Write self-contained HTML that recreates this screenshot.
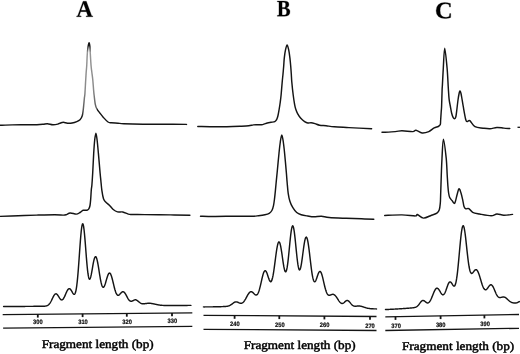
<!DOCTYPE html>
<html><head><meta charset="utf-8"><style>
html,body{margin:0;padding:0;background:#fff;}
body{width:520px;height:354px;overflow:hidden;}
svg{display:block;will-change:transform;text-rendering:geometricPrecision;}
.c{fill:none;stroke:#141414;stroke-width:1.45;stroke-linejoin:round;stroke-linecap:round;}
.a{stroke:#141414;stroke-width:1.3;}
.t{stroke:#141414;stroke-width:1.8;}
.d{stroke:#141414;stroke-width:1.3;}
.n{font-family:"Liberation Sans",sans-serif;font-size:6.3px;fill:#111;stroke:#111;stroke-width:0.2;font-weight:bold;}
.G{fill:#000;stroke:#000;stroke-width:0.25;vector-effect:non-scaling-stroke;}
.L{font-family:"Liberation Serif",serif;font-size:23.6px;font-weight:bold;fill:#000;stroke:#000;stroke-width:0.2;}
.f{font-family:"Liberation Serif",serif;font-size:12px;fill:#000;stroke:#000;stroke-width:0.45;}
</style></head><body>
<svg width="520" height="354" viewBox="0 0 520 354">
<path d="M0.00,125.30 C2.05,125.23 8.20,124.98 12.30,124.90 C16.40,124.82 20.50,124.83 24.60,124.80 C28.70,124.77 33.82,124.78 36.90,124.70 C39.98,124.62 41.35,124.47 43.10,124.30 C44.85,124.13 45.77,123.63 47.40,123.70 C49.03,123.77 51.17,124.63 52.90,124.70 C54.63,124.77 56.53,124.38 57.80,124.10 C59.07,123.82 59.58,123.30 60.50,123.00 C61.42,122.70 62.13,122.27 63.30,122.30 C64.47,122.33 66.03,123.08 67.50,123.20 C68.97,123.32 70.55,123.27 72.10,123.00 C73.65,122.73 75.48,122.15 76.80,121.60 C78.12,121.05 79.10,120.63 80.00,119.70 C80.90,118.77 81.68,117.48 82.20,116.00 C82.72,114.52 82.83,112.75 83.10,110.80 C83.37,108.85 83.58,106.47 83.80,104.30 C84.02,102.13 84.22,99.52 84.40,97.80 C84.58,96.08 84.68,96.97 84.90,94.00 C85.12,91.03 85.48,83.67 85.70,80.00 C85.92,76.33 86.03,74.33 86.20,72.00 C86.37,69.67 86.52,69.03 86.70,66.00 C86.88,62.97 87.07,57.05 87.30,53.80 C87.53,50.55 87.80,48.33 88.10,46.50 C88.40,44.67 88.80,42.80 89.10,42.80 C89.40,42.80 89.70,44.67 89.90,46.50 C90.10,48.33 90.10,50.55 90.30,53.80 C90.50,57.05 90.85,62.97 91.10,66.00 C91.35,69.03 91.52,69.67 91.80,72.00 C92.08,74.33 92.50,77.00 92.80,80.00 C93.10,83.00 93.38,87.50 93.60,90.00 C93.82,92.50 93.82,92.62 94.10,95.00 C94.38,97.38 94.83,101.97 95.30,104.30 C95.77,106.63 96.18,107.60 96.90,109.00 C97.62,110.40 98.52,111.30 99.60,112.70 C100.68,114.10 102.00,115.85 103.40,117.40 C104.80,118.95 106.68,121.10 108.00,122.00 C109.32,122.90 109.63,122.60 111.30,122.80 C112.97,123.00 115.92,123.05 118.00,123.20 C120.08,123.35 119.63,123.53 123.80,123.70 C127.97,123.87 136.13,124.10 143.00,124.20 C149.87,124.30 157.75,124.27 165.00,124.30 C172.25,124.33 182.92,124.38 186.50,124.40" class="c"/>
<path d="M0.00,216.40 C3.05,216.28 12.20,215.92 18.30,215.70 C24.40,215.48 30.52,215.27 36.60,215.10 C42.68,214.93 50.40,214.70 54.80,214.70 C59.20,214.70 61.13,215.08 63.00,215.10 C64.87,215.12 64.80,215.15 66.00,214.80 C67.20,214.45 68.48,213.12 70.20,213.00 C71.92,212.88 74.67,214.18 76.30,214.10 C77.93,214.02 78.85,213.13 80.00,212.50 C81.15,211.87 82.03,210.68 83.20,210.30 C84.37,209.92 86.07,210.45 87.00,210.20 C87.93,209.95 88.30,209.58 88.80,208.80 C89.30,208.02 89.68,207.13 90.00,205.50 C90.32,203.87 90.48,201.63 90.70,199.00 C90.92,196.37 91.10,192.03 91.30,189.70 C91.50,187.37 91.67,187.78 91.90,185.00 C92.13,182.22 92.40,178.27 92.70,173.00 C93.00,167.73 93.37,158.90 93.70,153.40 C94.03,147.90 94.33,143.38 94.70,140.00 C95.07,136.62 95.50,133.10 95.90,133.10 C96.30,133.10 96.68,136.62 97.10,140.00 C97.52,143.38 97.90,147.90 98.40,153.40 C98.90,158.90 99.70,168.57 100.10,173.00 C100.50,177.43 100.50,177.05 100.80,180.00 C101.10,182.95 101.45,187.57 101.90,190.70 C102.35,193.83 102.87,196.92 103.50,198.80 C104.13,200.68 104.72,200.93 105.70,202.00 C106.68,203.07 108.15,203.95 109.40,205.20 C110.65,206.45 111.85,208.38 113.20,209.50 C114.55,210.62 115.90,211.48 117.50,211.90 C119.10,212.32 121.02,211.63 122.80,212.00 C124.58,212.37 126.67,213.68 128.20,214.10 C129.73,214.52 129.27,214.42 132.00,214.50 C134.73,214.58 138.17,214.53 144.60,214.60 C151.03,214.67 163.05,214.80 170.60,214.90 C178.15,215.00 186.68,215.15 189.90,215.20" class="c"/>
<path d="M3.60,306.53L4.00,306.53L4.40,306.52L4.80,306.52L5.20,306.52L5.60,306.52L6.00,306.51L6.40,306.51L6.80,306.51L7.20,306.51L7.60,306.50L8.00,306.50L8.40,306.50L8.80,306.50L9.20,306.49L9.60,306.49L10.00,306.49L10.40,306.49L10.80,306.48L11.20,306.48L11.60,306.48L12.00,306.48L12.40,306.47L12.80,306.47L13.20,306.47L13.60,306.47L14.00,306.46L14.40,306.46L14.80,306.46L15.20,306.46L15.60,306.45L16.00,306.45L16.40,306.45L16.80,306.45L17.20,306.45L17.60,306.44L18.00,306.44L18.40,306.44L18.80,306.44L19.20,306.43L19.60,306.43L20.00,306.43L20.40,306.43L20.80,306.42L21.20,306.42L21.60,306.42L22.00,306.42L22.40,306.41L22.80,306.41L23.20,306.41L23.60,306.41L24.00,306.40L24.40,306.40L24.80,306.40L25.20,306.40L25.60,306.39L26.00,306.39L26.40,306.39L26.80,306.39L27.20,306.38L27.60,306.38L28.00,306.38L28.40,306.38L28.80,306.37L29.20,306.37L29.60,306.37L30.00,306.37L30.40,306.36L30.80,306.36L31.20,306.36L31.60,306.36L32.00,306.35L32.40,306.35L32.80,306.35L33.20,306.35L33.60,306.34L34.00,306.34L34.40,306.34L34.80,306.34L35.20,306.33L35.60,306.33L36.00,306.33L36.40,306.33L36.80,306.32L37.20,306.32L37.60,306.32L38.00,306.32L38.40,306.31L38.80,306.31L39.20,306.31L39.60,306.31L40.00,306.30L40.40,306.30L40.80,306.30L41.20,306.29L41.60,306.29L42.00,306.29L42.40,306.28L42.80,306.27L43.20,306.26L43.60,306.25L44.00,306.23L44.40,306.21L44.80,306.18L45.20,306.14L45.60,306.08L46.00,306.01L46.40,305.91L46.80,305.78L47.20,305.63L47.60,305.43L48.00,305.19L48.40,304.89L48.80,304.53L49.20,304.12L49.60,303.63L50.00,303.07L50.40,302.45L50.80,301.76L51.20,301.01L51.60,300.21L52.00,299.38L52.40,298.54L52.80,297.70L53.20,296.89L53.60,296.13L54.00,295.45L54.40,294.86L54.80,294.39L55.20,294.06L55.60,293.86L56.00,293.82L56.40,293.92L56.80,294.17L57.20,294.54L57.60,295.01L58.00,295.58L58.40,296.20L58.80,296.84L59.20,297.49L59.60,298.11L60.00,298.67L60.40,299.15L60.80,299.53L61.20,299.78L61.60,299.91L62.00,299.89L62.40,299.72L62.80,299.42L63.20,298.97L63.60,298.40L64.00,297.72L64.40,296.93L64.80,296.07L65.20,295.16L65.60,294.22L66.00,293.28L66.40,292.36L66.80,291.50L67.20,290.71L67.60,290.02L68.00,289.46L68.40,289.03L68.80,288.76L69.20,288.65L69.60,288.70L70.00,288.90L70.40,289.25L70.80,289.74L71.20,290.33L71.60,290.99L72.00,291.71L72.40,292.43L72.80,293.10L73.20,293.69L73.60,294.13L74.00,294.37L74.40,294.34L74.80,293.99L75.20,293.24L75.60,292.05L76.00,290.35L76.40,288.10L76.80,285.28L77.20,281.87L77.60,277.88L78.00,273.35L78.40,268.35L78.80,262.98L79.20,257.36L79.60,251.65L80.00,246.02L80.40,240.66L80.80,235.76L81.20,231.51L81.60,228.07L82.00,225.58L82.40,224.15L82.80,223.82L83.20,224.60L83.60,226.46L84.00,229.29L84.40,232.97L84.80,237.32L85.20,242.16L85.60,247.29L86.00,252.50L86.40,257.59L86.80,262.40L87.20,266.76L87.60,270.57L88.00,273.73L88.40,276.19L88.80,277.92L89.20,278.93L89.60,279.25L90.00,278.93L90.40,278.05L90.80,276.67L91.20,274.91L91.60,272.85L92.00,270.61L92.40,268.27L92.80,265.94L93.20,263.71L93.60,261.68L94.00,259.92L94.40,258.49L94.80,257.44L95.20,256.83L95.60,256.66L96.00,256.95L96.40,257.68L96.80,258.84L97.20,260.38L97.60,262.25L98.00,264.39L98.40,266.74L98.80,269.22L99.20,271.76L99.60,274.29L100.00,276.73L100.40,279.02L100.80,281.11L101.20,282.94L101.60,284.48L102.00,285.70L102.40,286.58L102.80,287.12L103.20,287.32L103.60,287.19L104.00,286.75L104.40,286.05L104.80,285.10L105.20,283.97L105.60,282.69L106.00,281.32L106.40,279.91L106.80,278.51L107.20,277.19L107.60,275.98L108.00,274.93L108.40,274.09L108.80,273.47L109.20,273.12L109.60,273.03L110.00,273.23L110.40,273.69L110.80,274.42L111.20,275.40L111.60,276.59L112.00,277.95L112.40,279.47L112.80,281.08L113.20,282.76L113.60,284.45L114.00,286.11L114.40,287.72L114.80,289.22L115.20,290.59L115.60,291.82L116.00,292.87L116.40,293.73L116.80,294.41L117.20,294.89L117.60,295.19L118.00,295.32L118.40,295.29L118.80,295.13L119.20,294.85L119.60,294.48L120.00,294.06L120.40,293.60L120.80,293.15L121.20,292.72L121.60,292.34L122.00,292.03L122.40,291.82L122.80,291.71L123.20,291.72L123.60,291.85L124.00,292.11L124.40,292.47L124.80,292.95L125.20,293.52L125.60,294.16L126.00,294.87L126.40,295.61L126.80,296.38L127.20,297.14L127.60,297.88L128.00,298.58L128.40,299.22L128.80,299.79L129.20,300.27L129.60,300.67L130.00,300.97L130.40,301.17L130.80,301.28L131.20,301.30L131.60,301.25L132.00,301.13L132.40,300.96L132.80,300.75L133.20,300.54L133.60,300.32L134.00,300.13L134.40,299.97L134.80,299.86L135.20,299.81L135.60,299.82L136.00,299.90L136.40,300.04L136.80,300.24L137.20,300.50L137.60,300.79L138.00,301.11L138.40,301.45L138.80,301.80L139.20,302.14L139.60,302.46L140.00,302.75L140.40,303.01L140.80,303.24L141.20,303.43L141.60,303.58L142.00,303.69L142.40,303.76L142.80,303.81L143.20,303.82L143.60,303.82L144.00,303.79L144.40,303.75L144.80,303.71L145.20,303.65L145.60,303.59L146.00,303.53L146.40,303.48L146.80,303.42L147.20,303.38L147.60,303.34L148.00,303.31L148.40,303.29L148.80,303.27L149.20,303.27L149.60,303.28L150.00,303.30L150.40,303.33L150.80,303.37L151.20,303.41L151.60,303.47L152.00,303.53L152.40,303.60L152.80,303.68L153.20,303.76L153.60,303.85L154.00,303.94L154.40,304.03L154.80,304.12L155.20,304.21L155.60,304.31L156.00,304.40L156.40,304.49L156.80,304.57L157.20,304.66L157.60,304.74L158.00,304.81L158.40,304.89L158.80,304.95L159.20,305.02L159.60,305.08L160.00,305.13L160.40,305.18L160.80,305.22L161.20,305.26L161.60,305.30L162.00,305.33L162.40,305.36L162.80,305.38L163.20,305.40L163.60,305.42L164.00,305.44L164.40,305.45L164.80,305.46L165.20,305.47L165.60,305.48L166.00,305.49L166.40,305.49L166.80,305.50L167.20,305.50L167.60,305.50L168.00,305.50L168.40,305.50L168.80,305.50L169.20,305.50L169.60,305.50L170.00,305.50L170.40,305.50L170.80,305.50L171.20,305.50L171.60,305.49L172.00,305.49L172.40,305.49L172.80,305.49L173.20,305.49L173.60,305.48L174.00,305.48L174.40,305.48L174.80,305.48L175.20,305.47L175.60,305.47L176.00,305.47L176.40,305.47L176.80,305.46L177.20,305.46L177.60,305.46L178.00,305.46L178.40,305.45L178.80,305.45L179.20,305.45L179.60,305.45L180.00,305.44L180.40,305.44L180.80,305.44L181.20,305.44L181.60,305.43L182.00,305.43L182.40,305.43L182.80,305.43L183.20,305.42L183.60,305.42L184.00,305.42L184.40,305.42L184.80,305.41L185.20,305.41L185.60,305.41L186.00,305.41L186.40,305.40L186.80,305.40L187.20,305.40L187.60,305.40L188.00,305.39L188.40,305.39L188.80,305.39L189.20,305.39L189.60,305.38L190.00,305.38L190.40,305.38L190.80,305.38L190.90,305.38" class="c"/>
<path d="M197.80,126.50 C201.17,126.55 210.77,126.85 218.00,126.80 C225.23,126.75 236.07,126.37 241.20,126.20 C246.33,126.03 246.75,126.02 248.80,125.80 C250.85,125.58 251.97,125.07 253.50,124.90 C255.03,124.73 256.47,124.85 258.00,124.80 C259.53,124.75 261.15,124.90 262.70,124.60 C264.25,124.30 265.92,123.38 267.30,123.00 C268.68,122.62 269.75,122.53 271.00,122.30 C272.25,122.07 273.87,122.03 274.80,121.60 C275.73,121.17 276.07,120.72 276.60,119.70 C277.13,118.68 277.57,117.28 278.00,115.50 C278.43,113.72 278.83,111.17 279.20,109.00 C279.57,106.83 279.88,104.83 280.20,102.50 C280.52,100.17 280.77,98.42 281.10,95.00 C281.43,91.58 281.88,85.50 282.20,82.00 C282.52,78.50 282.75,76.67 283.00,74.00 C283.25,71.33 283.48,68.70 283.70,66.00 C283.92,63.30 284.00,60.48 284.30,57.80 C284.60,55.12 285.03,52.05 285.50,49.90 C285.97,47.75 286.57,44.90 287.10,44.90 C287.63,44.90 288.23,47.75 288.70,49.90 C289.17,52.05 289.57,55.12 289.90,57.80 C290.23,60.48 290.47,63.30 290.70,66.00 C290.93,68.70 291.12,71.33 291.30,74.00 C291.48,76.67 291.48,78.50 291.80,82.00 C292.12,85.50 292.73,91.28 293.20,95.00 C293.67,98.72 294.18,101.97 294.60,104.30 C295.02,106.63 295.20,107.45 295.70,109.00 C296.20,110.55 296.75,112.05 297.60,113.60 C298.45,115.15 299.63,116.97 300.80,118.30 C301.97,119.63 303.43,120.82 304.60,121.60 C305.77,122.38 306.72,122.82 307.80,123.00 C308.88,123.18 309.90,122.60 311.10,122.70 C312.30,122.80 313.58,123.18 315.00,123.60 C316.42,124.02 317.75,124.83 319.60,125.20 C321.45,125.57 323.65,125.53 326.10,125.80 C328.55,126.07 330.48,126.50 334.30,126.80 C338.12,127.10 342.78,127.27 349.00,127.60 C355.22,127.93 367.83,128.60 371.60,128.80" class="c"/>
<path d="M200.50,216.20 C202.60,216.25 207.15,216.50 213.10,216.50 C219.05,216.50 229.72,216.25 236.20,216.20 C242.68,216.15 248.28,216.28 252.00,216.20 C255.72,216.12 256.35,215.93 258.50,215.70 C260.65,215.47 263.12,215.18 264.90,214.80 C266.68,214.42 268.03,214.12 269.20,213.40 C270.37,212.68 271.18,211.78 271.90,210.50 C272.62,209.22 273.05,207.77 273.50,205.70 C273.95,203.63 274.28,200.62 274.60,198.10 C274.92,195.58 275.13,193.28 275.40,190.60 C275.67,187.92 275.90,185.10 276.20,182.00 C276.50,178.90 276.73,176.80 277.20,172.00 C277.67,167.20 278.48,158.20 279.00,153.20 C279.52,148.20 279.83,145.05 280.30,142.00 C280.77,138.95 281.30,134.90 281.80,134.90 C282.30,134.90 282.83,138.95 283.30,142.00 C283.77,145.05 284.10,148.20 284.60,153.20 C285.10,158.20 285.88,167.20 286.30,172.00 C286.72,176.80 286.78,178.45 287.10,182.00 C287.42,185.55 287.73,190.10 288.20,193.30 C288.67,196.50 289.15,198.85 289.90,201.20 C290.65,203.55 291.57,205.52 292.70,207.40 C293.83,209.28 295.28,211.28 296.70,212.50 C298.12,213.72 299.37,214.12 301.20,214.70 C303.03,215.28 305.60,215.65 307.70,216.00 C309.80,216.35 311.50,216.75 313.80,216.80 C316.10,216.85 318.93,216.18 321.50,216.30 C324.07,216.42 325.08,217.17 329.20,217.50 C333.32,217.83 340.82,218.08 346.20,218.30 C351.58,218.52 356.90,218.65 361.50,218.80 C366.10,218.95 371.75,219.13 373.80,219.20" class="c"/>
<path d="M203.50,306.89L203.90,306.90L204.30,306.90L204.70,306.90L205.10,306.89L205.50,306.89L205.90,306.89L206.30,306.89L206.70,306.89L207.10,306.89L207.50,306.89L207.90,306.89L208.30,306.89L208.70,306.88L209.10,306.88L209.50,306.88L209.90,306.88L210.30,306.87L210.70,306.87L211.10,306.87L211.50,306.86L211.90,306.86L212.30,306.85L212.70,306.85L213.10,306.84L213.50,306.84L213.90,306.83L214.30,306.83L214.70,306.82L215.10,306.81L215.50,306.81L215.90,306.80L216.30,306.79L216.70,306.78L217.10,306.77L217.50,306.76L217.90,306.76L218.30,306.75L218.70,306.74L219.10,306.72L219.50,306.71L219.90,306.70L220.30,306.69L220.70,306.68L221.10,306.66L221.50,306.65L221.90,306.64L222.30,306.62L222.70,306.61L223.10,306.59L223.50,306.57L223.90,306.55L224.30,306.53L224.70,306.51L225.10,306.49L225.50,306.46L225.90,306.42L226.30,306.38L226.70,306.34L227.10,306.28L227.50,306.21L227.90,306.13L228.30,306.03L228.70,305.91L229.10,305.78L229.50,305.61L229.90,305.43L230.30,305.21L230.70,304.98L231.10,304.71L231.50,304.43L231.90,304.13L232.30,303.82L232.70,303.51L233.10,303.20L233.50,302.90L233.90,302.63L234.30,302.38L234.70,302.18L235.10,302.02L235.50,301.92L235.90,301.86L236.30,301.86L236.70,301.91L237.10,302.00L237.50,302.13L237.90,302.29L238.30,302.47L238.70,302.66L239.10,302.83L239.50,303.00L239.90,303.13L240.30,303.23L240.70,303.28L241.10,303.28L241.50,303.22L241.90,303.09L242.30,302.90L242.70,302.64L243.10,302.32L243.50,301.92L243.90,301.46L244.30,300.94L244.70,300.36L245.10,299.73L245.50,299.06L245.90,298.35L246.30,297.62L246.70,296.88L247.10,296.14L247.50,295.42L247.90,294.73L248.30,294.08L248.70,293.49L249.10,292.97L249.50,292.53L249.90,292.18L250.30,291.92L250.70,291.77L251.10,291.72L251.50,291.77L251.90,291.91L252.30,292.13L252.70,292.42L253.10,292.77L253.50,293.15L253.90,293.55L254.30,293.95L254.70,294.31L255.10,294.63L255.50,294.86L255.90,295.00L256.30,295.01L256.70,294.89L257.10,294.61L257.50,294.15L257.90,293.52L258.30,292.70L258.70,291.70L259.10,290.52L259.50,289.17L259.90,287.67L260.30,286.06L260.70,284.34L261.10,282.58L261.50,280.79L261.90,279.03L262.30,277.33L262.70,275.76L263.10,274.33L263.50,273.10L263.90,272.10L264.30,271.36L264.70,270.89L265.10,270.70L265.50,270.79L265.90,271.16L266.30,271.77L266.70,272.60L267.10,273.60L267.50,274.74L267.90,275.95L268.30,277.17L268.70,278.36L269.10,279.45L269.50,280.38L269.90,281.10L270.30,281.56L270.70,281.72L271.10,281.55L271.50,281.01L271.90,280.10L272.30,278.81L272.70,277.16L273.10,275.16L273.50,272.84L273.90,270.24L274.30,267.42L274.70,264.44L275.10,261.37L275.50,258.28L275.90,255.25L276.30,252.37L276.70,249.71L277.10,247.34L277.50,245.33L277.90,243.75L278.30,242.63L278.70,242.00L279.10,241.90L279.50,242.31L279.90,243.23L280.30,244.61L280.70,246.42L281.10,248.59L281.50,251.05L281.90,253.71L282.30,256.50L282.70,259.31L283.10,262.05L283.50,264.61L283.90,266.91L284.30,268.86L284.70,270.38L285.10,271.40L285.50,271.87L285.90,271.74L286.30,270.99L286.70,269.62L287.10,267.65L287.50,265.11L287.90,262.05L288.30,258.57L288.70,254.75L289.10,250.71L289.50,246.57L289.90,242.48L290.30,238.58L290.70,234.99L291.10,231.86L291.50,229.30L291.90,227.40L292.30,226.24L292.70,225.86L293.10,226.27L293.50,227.46L293.90,229.39L294.30,231.96L294.70,235.09L295.10,238.66L295.50,242.53L295.90,246.56L296.30,250.61L296.70,254.54L297.10,258.21L297.50,261.53L297.90,264.38L298.30,266.68L298.70,268.39L299.10,269.47L299.50,269.90L299.90,269.69L300.30,268.87L300.70,267.49L301.10,265.61L301.50,263.31L301.90,260.67L302.30,257.79L302.70,254.77L303.10,251.72L303.50,248.73L303.90,245.92L304.30,243.36L304.70,241.15L305.10,239.37L305.50,238.07L305.90,237.30L306.30,237.08L306.70,237.43L307.10,238.34L307.50,239.78L307.90,241.72L308.30,244.10L308.70,246.86L309.10,249.91L309.50,253.18L309.90,256.58L310.30,260.01L310.70,263.41L311.10,266.67L311.50,269.74L311.90,272.55L312.30,275.03L312.70,277.16L313.10,278.90L313.50,280.23L313.90,281.15L314.30,281.67L314.70,281.81L315.10,281.60L315.50,281.08L315.90,280.30L316.30,279.33L316.70,278.21L317.10,277.02L317.50,275.81L317.90,274.66L318.30,273.61L318.70,272.73L319.10,272.05L319.50,271.62L319.90,271.45L320.30,271.56L320.70,271.97L321.10,272.65L321.50,273.59L321.90,274.77L322.30,276.14L322.70,277.68L323.10,279.34L323.50,281.06L323.90,282.82L324.30,284.55L324.70,286.23L325.10,287.82L325.50,289.28L325.90,290.60L326.30,291.76L326.70,292.75L327.10,293.56L327.50,294.21L327.90,294.69L328.30,295.02L328.70,295.22L329.10,295.31L329.50,295.30L329.90,295.22L330.30,295.09L330.70,294.93L331.10,294.76L331.50,294.59L331.90,294.46L332.30,294.36L332.70,294.32L333.10,294.33L333.50,294.41L333.90,294.56L334.30,294.79L334.70,295.08L335.10,295.44L335.50,295.87L335.90,296.35L336.30,296.89L336.70,297.46L337.10,298.06L337.50,298.68L337.90,299.31L338.30,299.93L338.70,300.54L339.10,301.12L339.50,301.66L339.90,302.15L340.30,302.57L340.70,302.93L341.10,303.20L341.50,303.39L341.90,303.49L342.30,303.49L342.70,303.41L343.10,303.25L343.50,303.01L343.90,302.71L344.30,302.37L344.70,302.01L345.10,301.64L345.50,301.29L345.90,300.98L346.30,300.73L346.70,300.55L347.10,300.47L347.50,300.48L347.90,300.59L348.30,300.80L348.70,301.10L349.10,301.47L349.50,301.90L349.90,302.38L350.30,302.87L350.70,303.37L351.10,303.86L351.50,304.32L351.90,304.73L352.30,305.10L352.70,305.42L353.10,305.67L353.50,305.88L353.90,306.03L354.30,306.13L354.70,306.19L355.10,306.22L355.50,306.22L355.90,306.20L356.30,306.17L356.70,306.13L357.10,306.09L357.50,306.06L357.90,306.03L358.30,306.01L358.70,306.01L359.10,306.02L359.50,306.04L359.90,306.08L360.30,306.13L360.70,306.20L361.10,306.28L361.50,306.38L361.90,306.48L362.30,306.60L362.70,306.72L363.10,306.85L363.50,306.98L363.90,307.11L364.30,307.25L364.70,307.38L365.10,307.51L365.50,307.64L365.90,307.76L366.30,307.87L366.70,307.98L367.10,308.08L367.50,308.18L367.90,308.26L368.30,308.34L368.70,308.41L369.10,308.48L369.50,308.54L369.90,308.59L370.30,308.63L370.70,308.67L371.10,308.71L371.50,308.74L371.90,308.76L372.30,308.78L372.70,308.80L373.10,308.82L373.50,308.84L373.90,308.85L374.30,308.86L374.70,308.87L375.10,308.88L375.50,308.89L375.90,308.89L376.30,308.90L376.50,308.90" class="c"/>
<path d="M382.00,132.30 C384.20,132.18 391.88,131.85 395.20,131.60 C398.52,131.35 398.98,130.80 401.90,130.80 C404.82,130.80 410.35,131.68 412.70,131.60 C415.05,131.52 414.43,130.07 416.00,130.30 C417.57,130.53 419.97,132.78 422.10,133.00 C424.23,133.22 426.78,132.45 428.80,131.60 C430.82,130.75 432.62,128.75 434.20,127.90 C435.78,127.05 437.28,127.07 438.30,126.50 C439.32,125.93 439.92,125.42 440.30,124.50 C440.68,123.58 440.45,123.13 440.60,121.00 C440.75,118.87 441.03,114.17 441.20,111.70 C441.37,109.23 441.45,109.82 441.60,106.20 C441.75,102.58 441.97,93.53 442.10,90.00 C442.23,86.47 442.20,88.63 442.40,85.00 C442.60,81.37 442.92,74.33 443.30,68.20 C443.68,62.07 444.07,48.20 444.70,48.20 C445.33,48.20 446.50,61.57 447.10,68.20 C447.70,74.83 447.97,82.85 448.30,88.00 C448.63,93.15 448.77,96.10 449.10,99.10 C449.43,102.10 449.88,103.68 450.30,106.00 C450.72,108.32 451.12,111.07 451.60,113.00 C452.08,114.93 452.67,116.67 453.20,117.60 C453.73,118.53 454.35,118.78 454.80,118.60 C455.25,118.42 455.57,117.93 455.90,116.50 C456.23,115.07 456.45,112.75 456.80,110.00 C457.15,107.25 457.60,102.83 458.00,100.00 C458.40,97.17 458.87,94.50 459.20,93.00 C459.53,91.50 459.70,90.92 460.00,91.00 C460.30,91.08 460.67,92.17 461.00,93.50 C461.33,94.83 461.63,96.88 462.00,99.00 C462.37,101.12 462.57,102.73 463.20,106.20 C463.83,109.67 465.08,117.25 465.80,119.80 C466.52,122.35 466.83,121.37 467.50,121.50 C468.17,121.63 468.55,119.73 469.80,120.60 C471.05,121.47 472.78,125.43 475.00,126.70 C477.22,127.97 480.60,127.85 483.10,128.20 C485.60,128.55 487.70,128.92 490.00,128.80 C492.30,128.68 494.60,127.62 496.90,127.50 C499.20,127.38 501.65,127.93 503.80,128.10 C505.95,128.27 508.80,128.43 509.80,128.50" class="c"/>
<path d="M384.70,215.50 C387.57,215.40 396.78,214.83 401.90,214.90 C407.02,214.97 412.82,215.97 415.40,215.90 C417.98,215.83 416.05,214.13 417.40,214.50 C418.75,214.87 421.15,217.98 423.50,218.10 C425.85,218.22 429.27,216.02 431.50,215.20 C433.73,214.38 435.60,214.10 436.90,213.20 C438.20,212.30 438.73,211.48 439.30,209.80 C439.87,208.12 440.08,205.37 440.30,203.10 C440.52,200.83 440.43,200.88 440.60,196.20 C440.77,191.52 441.07,181.33 441.30,175.00 C441.53,168.67 441.65,164.17 442.00,158.20 C442.35,152.23 442.70,139.20 443.40,139.20 C444.10,139.20 445.57,152.23 446.20,158.20 C446.83,164.17 446.92,170.37 447.20,175.00 C447.48,179.63 447.67,183.00 447.90,186.00 C448.13,189.00 448.30,191.08 448.60,193.00 C448.90,194.92 449.13,196.23 449.70,197.50 C450.27,198.77 451.17,199.65 452.00,200.60 C452.83,201.55 453.87,204.13 454.70,203.20 C455.53,202.27 456.28,197.42 457.00,195.00 C457.72,192.58 458.33,189.03 459.00,188.70 C459.67,188.37 460.37,191.05 461.00,193.00 C461.63,194.95 462.30,198.15 462.80,200.40 C463.30,202.65 463.50,205.10 464.00,206.50 C464.50,207.90 465.00,208.45 465.80,208.80 C466.60,209.15 467.65,208.02 468.80,208.60 C469.95,209.18 470.90,211.40 472.70,212.30 C474.50,213.20 476.53,213.42 479.60,214.00 C482.67,214.58 488.22,215.80 491.10,215.80 C493.98,215.80 494.78,214.10 496.90,214.00 C499.02,213.90 501.20,215.13 503.80,215.20 C506.40,215.27 511.05,214.53 512.50,214.40" class="c"/>
<path d="M385.50,309.56L385.90,309.55L386.30,309.53L386.70,309.51L387.10,309.49L387.50,309.47L387.90,309.46L388.30,309.44L388.70,309.42L389.10,309.40L389.50,309.38L389.90,309.36L390.30,309.34L390.70,309.32L391.10,309.30L391.50,309.28L391.90,309.26L392.30,309.24L392.70,309.22L393.10,309.20L393.50,309.17L393.90,309.15L394.30,309.13L394.70,309.11L395.10,309.09L395.50,309.06L395.90,309.04L396.30,309.02L396.70,308.99L397.10,308.97L397.50,308.95L397.90,308.92L398.30,308.90L398.70,308.87L399.10,308.85L399.50,308.82L399.90,308.80L400.30,308.77L400.70,308.75L401.10,308.72L401.50,308.69L401.90,308.67L402.30,308.64L402.70,308.61L403.10,308.59L403.50,308.56L403.90,308.53L404.30,308.50L404.70,308.47L405.10,308.44L405.50,308.42L405.90,308.39L406.30,308.36L406.70,308.33L407.10,308.30L407.50,308.27L407.90,308.23L408.30,308.20L408.70,308.17L409.10,308.14L409.50,308.11L409.90,308.08L410.30,308.04L410.70,308.01L411.10,307.97L411.50,307.94L411.90,307.90L412.30,307.86L412.70,307.82L413.10,307.77L413.50,307.71L413.90,307.65L414.30,307.57L414.70,307.48L415.10,307.36L415.50,307.23L415.90,307.06L416.30,306.86L416.70,306.61L417.10,306.33L417.50,305.99L417.90,305.61L418.30,305.18L418.70,304.71L419.10,304.21L419.50,303.68L419.90,303.14L420.30,302.60L420.70,302.09L421.10,301.63L421.50,301.22L421.90,300.90L422.30,300.66L422.70,300.53L423.10,300.49L423.50,300.55L423.90,300.71L424.30,300.93L424.70,301.21L425.10,301.53L425.50,301.86L425.90,302.18L426.30,302.47L426.70,302.71L427.10,302.87L427.50,302.95L427.90,302.93L428.30,302.80L428.70,302.57L429.10,302.23L429.50,301.77L429.90,301.22L430.30,300.56L430.70,299.82L431.10,298.99L431.50,298.10L431.90,297.15L432.30,296.17L432.70,295.17L433.10,294.16L433.50,293.18L433.90,292.23L434.30,291.34L434.70,290.54L435.10,289.83L435.50,289.23L435.90,288.76L436.30,288.43L436.70,288.25L437.10,288.20L437.50,288.30L437.90,288.54L438.30,288.90L438.70,289.37L439.10,289.93L439.50,290.56L439.90,291.23L440.30,291.91L440.70,292.58L441.10,293.21L441.50,293.76L441.90,294.23L442.30,294.57L442.70,294.77L443.10,294.81L443.50,294.68L443.90,294.38L444.30,293.90L444.70,293.26L445.10,292.46L445.50,291.52L445.90,290.48L446.30,289.35L446.70,288.19L447.10,287.02L447.50,285.89L447.90,284.84L448.30,283.90L448.70,283.11L449.10,282.50L449.50,282.08L449.90,281.87L450.30,281.87L450.70,282.06L451.10,282.42L451.50,282.93L451.90,283.53L452.30,284.19L452.70,284.83L453.10,285.41L453.50,285.86L453.90,286.12L454.30,286.12L454.70,285.81L455.10,285.15L455.50,284.07L455.90,282.57L456.30,280.61L456.70,278.20L457.10,275.33L457.50,272.04L457.90,268.37L458.30,264.38L458.70,260.13L459.10,255.72L459.50,251.26L459.90,246.83L460.30,242.57L460.70,238.57L461.10,234.96L461.50,231.84L461.90,229.29L462.30,227.39L462.70,226.18L463.10,225.70L463.50,225.95L463.90,226.91L464.30,228.54L464.70,230.76L465.10,233.51L465.50,236.67L465.90,240.14L466.30,243.81L466.70,247.57L467.10,251.31L467.50,254.94L467.90,258.35L468.30,261.50L468.70,264.31L469.10,266.75L469.50,268.80L469.90,270.46L470.30,271.72L470.70,272.61L471.10,273.16L471.50,273.42L471.90,273.42L472.30,273.21L472.70,272.85L473.10,272.38L473.50,271.85L473.90,271.31L474.30,270.79L474.70,270.34L475.10,269.99L475.50,269.76L475.90,269.67L476.30,269.73L476.70,269.96L477.10,270.36L477.50,270.92L477.90,271.64L478.30,272.50L478.70,273.50L479.10,274.61L479.50,275.82L479.90,277.10L480.30,278.42L480.70,279.77L481.10,281.12L481.50,282.43L481.90,283.70L482.30,284.90L482.70,285.99L483.10,286.98L483.50,287.83L483.90,288.54L484.30,289.10L484.70,289.50L485.10,289.74L485.50,289.82L485.90,289.76L486.30,289.56L486.70,289.23L487.10,288.81L487.50,288.31L487.90,287.76L488.30,287.18L488.70,286.61L489.10,286.08L489.50,285.61L489.90,285.23L490.30,284.95L490.70,284.80L491.10,284.80L491.50,284.94L491.90,285.22L492.30,285.65L492.70,286.22L493.10,286.90L493.50,287.68L493.90,288.55L494.30,289.46L494.70,290.41L495.10,291.37L495.50,292.31L495.90,293.21L496.30,294.05L496.70,294.82L497.10,295.50L497.50,296.09L497.90,296.58L498.30,296.97L498.70,297.26L499.10,297.45L499.50,297.57L499.90,297.61L500.30,297.59L500.70,297.52L501.10,297.42L501.50,297.31L501.90,297.19L502.30,297.09L502.70,297.01L503.10,296.96L503.50,296.95L503.90,296.99L504.30,297.09L504.70,297.23L505.10,297.42L505.50,297.66L505.90,297.94L506.30,298.25L506.70,298.59L507.10,298.95L507.50,299.32L507.90,299.70L508.30,300.06L508.70,300.42L509.10,300.76L509.50,301.08L509.90,301.37L510.30,301.64L510.70,301.88L511.10,302.10L511.50,302.29L511.90,302.46L512.30,302.60L512.70,302.72L513.10,302.82L513.50,302.91L513.90,302.97L514.30,303.02L514.70,303.04L515.10,303.05L515.50,303.03L515.90,302.99L516.30,302.92L516.70,302.82L517.10,302.69L517.50,302.53L517.90,302.35L518.30,302.15L518.70,301.95L519.10,301.75L519.40,301.61" class="c"/>
<line x1="2.7" y1="314.6" x2="192.3" y2="312.8" class="a"/>
<line x1="3.1" y1="328.2" x2="192.3" y2="326.3" class="a"/>
<line x1="203.5" y1="315.3" x2="376.5" y2="316.5" class="a"/>
<line x1="203.5" y1="329.3" x2="376.5" y2="330.5" class="a"/>
<line x1="385.3" y1="316.8" x2="519.0" y2="314.5" class="a"/>
<line x1="385.3" y1="330.5" x2="519.0" y2="328.3" class="a"/>
<line x1="37.8" y1="314.3" x2="37.8" y2="317.6" class="t"/>
<text x="33.10" y="324.40" class="n" textLength="9.6" lengthAdjust="spacingAndGlyphs">300</text>
<line x1="82.6" y1="313.8" x2="82.6" y2="317.1" class="t"/>
<text x="78.20" y="324.10" class="n" textLength="9.6" lengthAdjust="spacingAndGlyphs">310</text>
<line x1="126.8" y1="313.4" x2="126.8" y2="316.7" class="t"/>
<text x="122.30" y="323.80" class="n" textLength="9.6" lengthAdjust="spacingAndGlyphs">320</text>
<line x1="172.0" y1="313.0" x2="172.0" y2="316.3" class="t"/>
<text x="167.50" y="323.40" class="n" textLength="9.6" lengthAdjust="spacingAndGlyphs">330</text>
<line x1="234.6" y1="315.5" x2="234.6" y2="318.8" class="t"/>
<text x="230.10" y="326.40" class="n" textLength="9.6" lengthAdjust="spacingAndGlyphs">240</text>
<line x1="279.3" y1="315.8" x2="279.3" y2="319.1" class="t"/>
<text x="275.10" y="326.70" class="n" textLength="9.6" lengthAdjust="spacingAndGlyphs">250</text>
<line x1="324.4" y1="316.1" x2="324.4" y2="319.4" class="t"/>
<text x="319.80" y="327.30" class="n" textLength="9.6" lengthAdjust="spacingAndGlyphs">260</text>
<line x1="370.0" y1="316.5" x2="370.0" y2="319.8" class="t"/>
<text x="365.20" y="328.00" class="n" textLength="9.6" lengthAdjust="spacingAndGlyphs">270</text>
<line x1="395.5" y1="316.6" x2="395.5" y2="319.9" class="t"/>
<text x="391.30" y="327.60" class="n" textLength="9.6" lengthAdjust="spacingAndGlyphs">370</text>
<line x1="440.6" y1="315.8" x2="440.6" y2="319.1" class="t"/>
<text x="435.90" y="327.00" class="n" textLength="9.6" lengthAdjust="spacingAndGlyphs">380</text>
<line x1="484.4" y1="315.1" x2="484.4" y2="318.4" class="t"/>
<text x="480.30" y="326.40" class="n" textLength="9.6" lengthAdjust="spacingAndGlyphs">390</text>
<defs><linearGradient id="fa" x1="0" y1="0" x2="0" y2="1"><stop offset="0" stop-color="#fff" stop-opacity="0"/><stop offset="0.09" stop-color="#fff" stop-opacity="0.55"/><stop offset="0.6" stop-color="#fff" stop-opacity="0.5"/><stop offset="0.88" stop-color="#fff" stop-opacity="0.3"/><stop offset="1" stop-color="#fff" stop-opacity="0"/></linearGradient></defs>
<rect x="82" y="46" width="15" height="72" fill="url(#fa)"/>
<line x1="517.5" y1="127.3" x2="520" y2="127.3" class="d"/>
<path class="G" transform="matrix(0.011191 0 0 -0.011509 76.396 16.780)" d="M428 73V0H20V73L120 100L597 1352H887L1362 100L1464 73V0H867V73L1022 100L894 447H379L256 100ZM641 1150 420 557H856Z"/>
<path class="G" transform="matrix(0.010008 0 0 -0.011366 276.880 16.212)" d="M878 1010Q878 1127 827.5 1179.0Q777 1231 661 1231H522V764H669Q776 764 827.0 820.0Q878 876 878 1010ZM979 391Q979 524 912.5 589.0Q846 654 695 654H522V110Q666 104 749 104Q866 104 922.5 175.0Q979 246 979 391ZM34 0V73L207 100V1242L34 1268V1341H685Q952 1341 1079.0 1269.5Q1206 1198 1206 1038Q1206 918 1131.0 831.0Q1056 744 930 717Q1117 698 1213.0 615.5Q1309 533 1309 391Q1309 196 1165.0 95.0Q1021 -6 752 -6L296 0Z"/>
<path class="G" transform="matrix(0.011987 0 0 -0.011526 434.921 18.249)" d="M815 -20Q478 -20 289.0 159.0Q100 338 100 655Q100 999 280.5 1177.5Q461 1356 814 1356Q1047 1356 1297 1289L1303 967H1213L1185 1161Q1053 1251 878 1251Q646 1251 539.0 1106.5Q432 962 432 658Q432 377 544.0 230.0Q656 83 870 83Q983 83 1067.5 113.0Q1152 143 1200 184L1232 404H1323L1317 64Q1227 29 1083.0 4.5Q939 -20 815 -20Z"/>
<text x="41.7" y="348" class="f" textLength="112" lengthAdjust="spacingAndGlyphs">Fragment length (bp)</text>
<text x="243.7" y="349" class="f" textLength="112" lengthAdjust="spacingAndGlyphs">Fragment length (bp)</text>
<text x="402" y="350" class="f" textLength="112.2" lengthAdjust="spacingAndGlyphs">Fragment length (bp)</text>
</svg>
</body></html>
